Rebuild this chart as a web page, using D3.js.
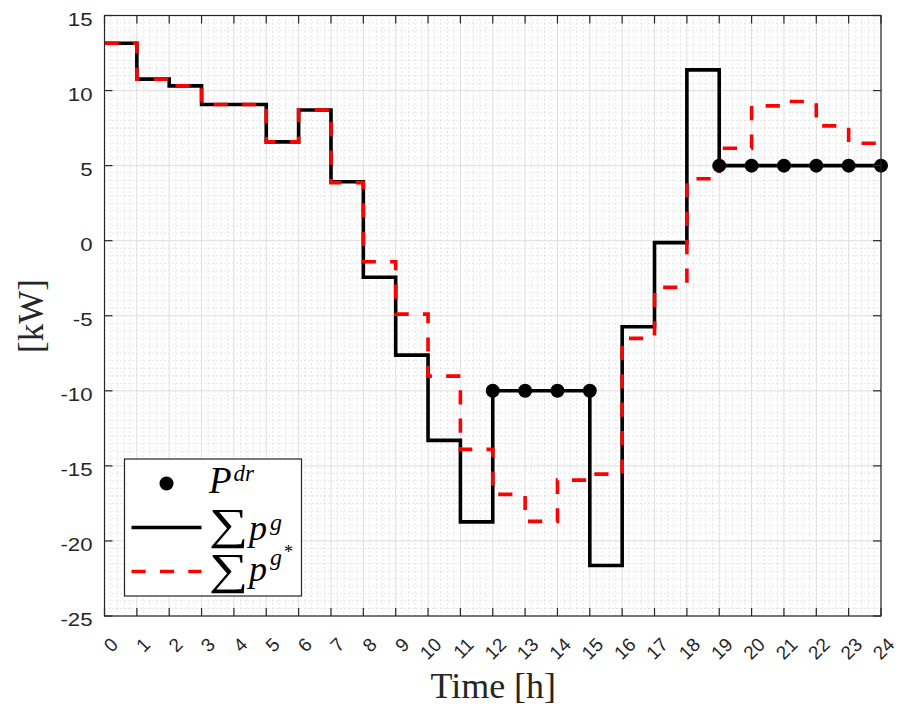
<!DOCTYPE html>
<html>
<head>
<meta charset="utf-8">
<script src="https://cdn.jsdelivr.net/npm/d3@7/dist/d3.min.js"></script>
<style>
  body { margin: 0; background: #fff; }
  svg { display: block; }
</style>
</head>
<body>
<svg id="chart" width="897" height="708"></svg>
<script>
// Hourly grid power: scheduled (black) and optimal (red), kW
const hours = [0, 1, 2, 3, 4, 5, 6, 7, 8, 9, 10, 11, 12, 13, 14, 15, 16, 17, 18, 19, 20, 21, 22, 23];
const gridPower = [13.15, 10.76, 10.31, 9.07, 9.07, 6.58, 8.71, 3.93, -2.44, -7.62, -13.3, -18.73,
                   -10, -10, -10, -21.64, -5.73, -0.13, 11.38, 5, 5, 5, 5, 5];
const gridPowerOpt = [13.15, 10.76, 10.31, 9.07, 9.07, 6.58, 8.71, 3.87, -1.4, -4.89, -9.02, -13.9,
                      -16.9, -18.7, -15.95, -15.55, -6.51, -3.11, 4.13, 6.16, 8.98, 9.27, 7.65, 6.49];
// Demand-response set points
const drHours = [12, 13, 14, 15, 19, 20, 21, 22, 23, 24];
const drValues = [-10, -10, -10, -10, 5, 5, 5, 5, 5, 5];
// Axis ticks
const xTicks = [0, 1, 2, 3, 4, 5, 6, 7, 8, 9, 10, 11, 12, 13, 14, 15, 16, 17, 18, 19, 20, 21, 22, 23, 24];
const yTicks = [-25, -20, -15, -10, -5, 0, 5, 10, 15];
const xMinorStep = 0.2;
const yMinorStep = 0.5;

(function () {
const svg = d3.select("#chart");
const pLeft = 104.5, pRight = 881, pTop = 15.5, pBottom = 616;
const x = d3.scaleLinear().domain([0, 24]).range([pLeft, pRight]);
const y = d3.scaleLinear().domain([-25, 15]).range([pBottom, pTop]);

const axisColor = "#262626";
const sansFont = "'Liberation Sans', Arial, Helvetica, sans-serif";
const serifFont = "'Liberation Serif', 'Times New Roman', serif";

// plot background
svg.append("rect").attr("x", pLeft).attr("y", pTop)
  .attr("width", pRight - pLeft).attr("height", pBottom - pTop).attr("fill", "#fff");

// minor grid (dotted)
const minorX = d3.range(0, 24 + 1e-9, xMinorStep).filter(v => Math.abs(v - Math.round(v)) > 1e-6);
const minorY = d3.range(-25, 15 + 1e-9, yMinorStep).filter(v => Math.abs(v / 5 - Math.round(v / 5)) > 1e-6);
const gMinor = svg.append("g").attr("stroke", "#000").attr("stroke-opacity", 0.28)
  .attr("stroke-width", 0.7).attr("stroke-dasharray", "1,3");
gMinor.selectAll("line.mx").data(minorX).join("line").attr("class", "mx")
  .attr("x1", d => x(d)).attr("x2", d => x(d)).attr("y1", pTop).attr("y2", pBottom);
gMinor.selectAll("line.my").data(minorY).join("line").attr("class", "my")
  .attr("y1", d => y(d)).attr("y2", d => y(d)).attr("x1", pLeft).attr("x2", pRight);

// major grid
const gMajor = svg.append("g").attr("stroke", "#dedede").attr("stroke-width", 1);
gMajor.selectAll("line.gx").data(xTicks).join("line").attr("class", "gx")
  .attr("x1", d => x(d)).attr("x2", d => x(d)).attr("y1", pTop).attr("y2", pBottom);
gMajor.selectAll("line.gy").data(yTicks).join("line").attr("class", "gy")
  .attr("y1", d => y(d)).attr("y2", d => y(d)).attr("x1", pLeft).attr("x2", pRight);

// step series (value holds until the next hour, last value held to hour 24)
const stepPoints = vals => vals.map((v, i) => [hours[i], v]).concat([[24, vals[vals.length - 1]]]);
const line = d3.line().x(d => x(d[0])).y(d => y(d[1])).curve(d3.curveStepAfter);

svg.append("path").datum(stepPoints(gridPower))
  .attr("d", line).attr("fill", "none").attr("stroke", "#000")
  .attr("stroke-width", 3.6).attr("stroke-linejoin", "miter");

svg.append("path").datum(stepPoints(gridPowerOpt))
  .attr("d", line).attr("fill", "none").attr("stroke", "#ff0000")
  .attr("stroke-width", 3.6).attr("stroke-dasharray", "14.2,14.2").attr("stroke-linejoin", "miter");

// demand-response markers
svg.append("g").selectAll("circle").data(drHours.map((h, i) => [h, drValues[i]])).join("circle")
  .attr("cx", d => x(d[0])).attr("cy", d => y(d[1])).attr("r", 7).attr("fill", "#000");

// axes box with inward ticks on all sides
const gAxes = svg.append("g").attr("stroke", axisColor).attr("stroke-width", 1.2).attr("fill", "none");
gAxes.append("rect").attr("x", pLeft).attr("y", pTop).attr("width", pRight - pLeft).attr("height", pBottom - pTop);
const tickLen = 8;
xTicks.forEach(t => {
  gAxes.append("line").attr("x1", x(t)).attr("x2", x(t)).attr("y1", pBottom).attr("y2", pBottom - tickLen);
  gAxes.append("line").attr("x1", x(t)).attr("x2", x(t)).attr("y1", pTop).attr("y2", pTop + tickLen);
});
yTicks.forEach(t => {
  gAxes.append("line").attr("y1", y(t)).attr("y2", y(t)).attr("x1", pLeft).attr("x2", pLeft + tickLen);
  gAxes.append("line").attr("y1", y(t)).attr("y2", y(t)).attr("x1", pRight).attr("x2", pRight - tickLen);
});

// tick labels
svg.append("g").selectAll("text").data(yTicks).join("text")
  .attr("transform", d => `translate(${pLeft - 12},${y(d)}) scale(1.2,1)`)
  .attr("dy", "0.55em")
  .attr("text-anchor", "end").attr("font-family", sansFont).attr("font-size", 18.5)
  .attr("fill", axisColor).text(d => d);

svg.append("g").selectAll("text").data(xTicks).join("text")
  .attr("transform", d => `translate(${x(d) + 10},641) rotate(-45)`)
  .attr("dy", "0.35em").attr("text-anchor", "end")
  .attr("font-family", sansFont).attr("font-size", 19)
  .attr("fill", axisColor).text(d => d);

// axis titles
svg.append("text").attr("x", (pLeft + pRight) / 2 + 0.5).attr("y", 698)
  .attr("text-anchor", "middle").attr("font-family", serifFont).attr("font-size", 36)
  .attr("fill", axisColor).text("Time [h]");
svg.append("text").attr("transform", "translate(43,316) rotate(-90)")
  .attr("text-anchor", "middle").attr("font-family", serifFont).attr("font-size", 35)
  .attr("fill", axisColor).text("[kW]");

// legend
const lg = svg.append("g");
lg.append("rect").attr("x", 124.5).attr("y", 459).attr("width", 177).attr("height", 137)
  .attr("fill", "#fff").attr("stroke", axisColor).attr("stroke-width", 1.2);
lg.append("circle").attr("cx", 166.5).attr("cy", 483.5).attr("r", 7).attr("fill", "#000");
lg.append("line").attr("x1", 131.5).attr("x2", 201.5).attr("y1", 527.5).attr("y2", 527.5)
  .attr("stroke", "#000").attr("stroke-width", 3.6);
lg.append("line").attr("x1", 131.5).attr("x2", 201.5).attr("y1", 571.5).attr("y2", 571.5)
  .attr("stroke", "#ff0000").attr("stroke-width", 3.6).attr("stroke-dasharray", "14.2,14.2");

const t1 = lg.append("text").attr("font-family", serifFont).attr("fill", "#000");
t1.append("tspan").attr("x", 209).attr("y", 493).attr("font-size", 37).attr("font-style", "italic").text("P");
t1.append("tspan").attr("y", 481).attr("dx", 2).attr("font-size", 23).attr("font-style", "italic").text("dr");

// summation signs
[539, 584].forEach(b => {
  lg.append("text").attr("transform", `translate(209,${b}) scale(1.25,1)`)
    .attr("font-family", serifFont).attr("font-size", 44).attr("fill", "#000").text("∑");
});

const t2 = lg.append("text").attr("font-family", serifFont).attr("fill", "#000").attr("font-style", "italic");
t2.append("tspan").attr("x", 249).attr("y", 540).attr("font-size", 36).text("p");
t2.append("tspan").attr("x", 270).attr("y", 530).attr("font-size", 24).text("g");

const t3 = lg.append("text").attr("font-family", serifFont).attr("fill", "#000").attr("font-style", "italic");
t3.append("tspan").attr("x", 249).attr("y", 581).attr("font-size", 36).text("p");
t3.append("tspan").attr("x", 270).attr("y", 565).attr("font-size", 24).text("g");
t3.append("tspan").attr("x", 284).attr("y", 558).attr("font-size", 18).attr("font-style", "normal").text("*");
})();
</script>
</body>
</html>
